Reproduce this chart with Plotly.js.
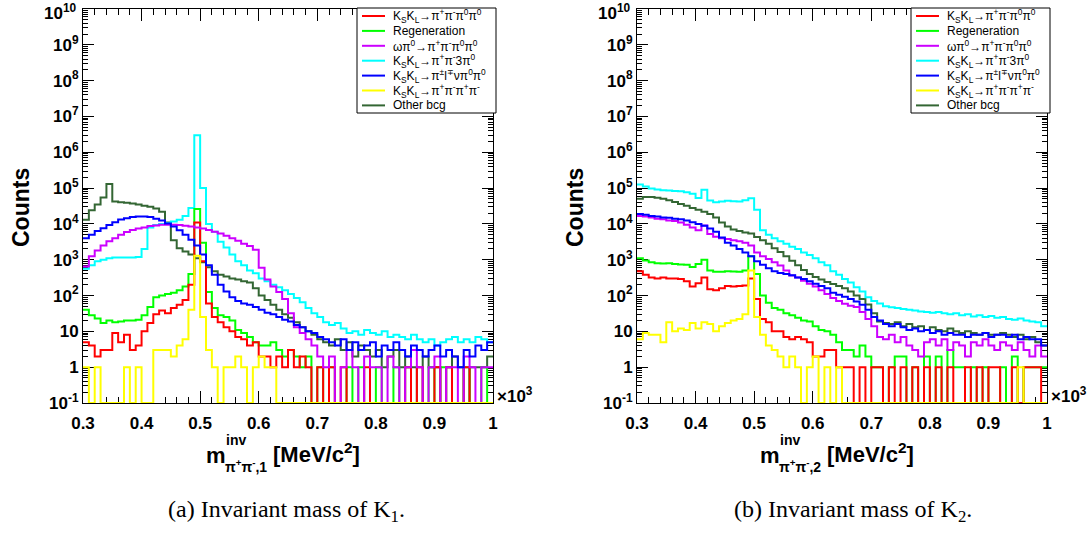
<!DOCTYPE html>
<html><head><meta charset="utf-8">
<script src="https://cdn.plot.ly/plotly-3.0.1.min.js"></script>
<style>html,body{margin:0;padding:0;background:#fff}#plot{width:1091px;height:537px}</style>
</head><body><div id="plot"></div>
<script>
// ---------------- data (counts per 10 MeV bin, 0.30 .. 1.00 x10^3 MeV/c^2) ----------------
const binLo = 0.3, binW = 0.01, nBins = 70;

const seriesLabels = [
  "K<sub>S</sub>K<sub>L</sub>→π<sup>+</sup>π<sup>-</sup>π<sup>0</sup>π<sup>0</sup>",
  "Regeneration",
  "ωπ<sup>0</sup>→π<sup>+</sup>π<sup>-</sup>π<sup>0</sup>π<sup>0</sup>",
  "K<sub>S</sub>K<sub>L</sub>→π<sup>+</sup>π<sup>-</sup>3π<sup>0</sup>",
  "K<sub>S</sub>K<sub>L</sub>→π<sup>±</sup>l<sup>∓</sup>νπ<sup>0</sup>π<sup>0</sup>",
  "K<sub>S</sub>K<sub>L</sub>→π<sup>+</sup>π<sup>-</sup>π<sup>+</sup>π<sup>-</sup>",
  "Other bcg"
];
const seriesColors = ["#ff0000","#00ff00","#cc00ff","#00ffff","#0000ff","#ffff00","#336633"];

const K1_signal = [
5,4,2,3,3,9,5,8,3,4,
10,17,30,38,32,45,55,75,200,11000,
900,60,25,18,13,10,7,6,4,5,
2,2,1,2,1,3,1,2,1,0,
1,0,1,0,1,0,0,0,1,0,
0,0,0,0,0,1,0,1,0,0,
1,0,1,0,0,1,0,0,0,0];
const K1_regen = [
40,28,23,17,20,18,19,20,20,21,
28,48,90,100,110,120,140,180,400,26000,
3000,125,45,28,25,20,11,9,7,5,
4,4,5,3,2,3,2,1,2,0,
1,0,1,0,0,1,0,1,0,0,
1,0,0,1,0,1,0,0,0,1,
0,1,0,0,0,1,0,0,1,0];
const K1_omega = [
650,1250,1800,2500,3300,4000,5000,5900,6800,7400,
8000,8700,9100,9500,9500,9500,9300,8900,8500,8000,
7400,6800,6000,5400,4700,4000,3400,2800,2400,1900,
600,280,180,125,80,32,13,9,6,4,
2,1,2,0,1,3,1,0,2,1,
1,0,2,1,0,1,3,1,0,1,
2,0,1,1,0,2,1,0,1,1];
const K1_3pi0 = [
560,700,900,1000,1100,1150,1150,1150,1150,1200,
2000,8000,9300,10000,10500,11700,13000,16500,28000,3000000,
100000,10000,6000,3200,2200,1400,900,700,500,420,
300,250,200,170,140,110,85,65,45,32,
25,18,15,17,12,9,10,8,11,9,
8,10,7,8,7,6,8,6,5,6,
4,5,6,7,5,6,5,7,6,5];
const K1_semilep = [
4000,5000,6300,7600,9300,11200,13200,14500,15500,16000,
16000,15500,14000,12500,10200,8500,6700,5000,3600,2500,
1400,700,380,200,130,90,70,60,55,48,
40,33,30,25,21,19,15,13,10,9,
7,6,5,4,6,3,5,3,4,5,
2,4,3,5,3,2,4,3,2,3,
4,2,3,2,1,3,2,4,3,5];
const K1_4pic = [
1,0,1,0,0,0,0,1,0,1,
0,0,3,3,3,2,4,6,40,1300,
25,3,1,0,1,1,2,1,0,1,
2,1,1,0,0,0,0,0,0,0,
0,0,0,0,0,0,0,0,0,0,
0,0,0,0,0,0,0,0,0,0,
0,0,0,0,0,0,0,0,0,0];
const K1_other = [
13000,24000,35000,55000,130000,42000,40000,39000,37000,35000,
32000,30000,27000,22000,11000,3500,2100,1700,1400,1100,
850,620,480,380,340,300,280,250,230,160,
100,75,55,40,30,24,18,13,10,8,
6,5,4,6,3,5,2,4,3,2,
3,1,2,3,1,2,1,0,2,1,
1,0,1,2,1,0,1,1,1,2];

const K2_signal = [
480,380,320,300,320,300,300,290,250,180,
220,320,150,140,160,185,180,185,190,300,
80,22,18,10,10,7,6,7,6,5,
2,2,3,3,1,1,1,0,1,0,
1,1,0,1,0,1,0,1,0,1,
0,1,0,1,0,0,1,0,1,0,
1,1,0,0,1,0,1,1,1,0];
const K2_regen = [
1100,950,850,800,780,800,760,740,720,630,
760,1000,500,460,460,480,470,460,500,1250,
400,100,63,45,40,32,28,24,20,19,
14,11,10,8,5,3,3,2,4,2,
1,1,0,1,2,2,0,1,0,2,
0,2,0,3,1,1,0,1,0,1,
0,0,1,0,2,0,1,1,1,1];
const K2_omega = [
16500,16000,15000,14000,13500,12500,12000,11000,9500,8000,
6600,9000,5200,4400,4000,3800,3500,3300,3000,2500,
1600,1250,1050,850,690,500,360,320,260,215,
180,140,110,85,70,59,52,48,35,22,
14,7,6,8,5,7,4,3,2,5,
6,4,6,3,5,4,2,5,4,6,
4,3,5,4,3,5,3,2,4,2];
const K2_3pi0 = [
125000,110000,98000,91000,87000,85000,83000,81000,77000,70000,
53000,90000,45000,40000,42000,44000,43000,42000,46000,52000,
25000,6600,5000,4000,3300,2800,2300,2000,1600,1350,
1100,850,700,480,380,290,230,170,130,90,
70,60,50,47,45,42,40,38,36,35,
33,35,32,30,32,28,30,26,28,25,
27,24,25,22,21,23,20,19,18,14];
const K2_semilep = [
19000,18000,16500,16000,15000,14800,14000,13500,12500,11200,
10000,8900,7400,6000,4200,3000,2500,2000,1600,1250,
900,720,575,480,425,400,370,320,290,250,
215,185,160,120,105,92,80,68,55,40,
25,20,16,14,16,13,11,12,10,11,
9,10,8,9,8,8,7,8,8,9,
7,8,8,7,8,6,7,6,6,4];
const K2_4pic = [
6,9,8,8,5,18,10,12,11,17,
12,18,16,10,14,17,20,22,30,500,
25,8,4,3,2,1,2,1,0,1,
2,0,1,0,1,0,0,0,0,0,
0,0,0,0,0,0,0,0,0,0,
0,0,0,0,0,0,0,0,0,0,
0,0,0,0,0,1,0,0,0,0];
const K2_other = [
50000,56000,56000,54000,50000,46000,41000,36000,32000,28000,
25000,22000,19000,15000,11000,8500,7000,6300,5800,5400,
4300,3500,2800,2100,1650,1250,930,700,520,400,
330,280,240,210,185,160,130,100,80,56,
32,19,17,16,18,14,16,13,14,11,
13,11,10,12,10,9,10,9,8,9,
8,8,9,8,7,8,6,7,5,4];

const xTickVals = [0.3,0.4,0.5,0.6,0.7,0.8,0.9,1.0];
const xTickText = ["0.3","0.4","0.5","0.6","0.7","0.8","0.9","1"];
const yTickVals = [0.1,1,10,1e2,1e3,1e4,1e5,1e6,1e7,1e8,1e9,1e10];
const yTickText = ["10<sup>-1</sup>","1","10","10<sup>2</sup>","10<sup>3</sup>","10<sup>4</sup>","10<sup>5</sup>","10<sup>6</sup>","10<sup>7</sup>","10<sup>8</sup>","10<sup>9</sup>","10<sup>10</sup>"];

// ---------------- build ----------------
const W = 1091, H = 537;
const SANS = "Liberation Sans, Arial, Helvetica, sans-serif";
const SERIF = "Liberation Serif, Times New Roman, serif";
const yFloor = 0.1;
const edges = Array.from({length: nBins + 1}, (_, i) => +(binLo + i * binW).toFixed(4));
function stepY(v) { const y = v.map(c => c > 0 ? c : yFloor); y.push(y[y.length - 1]); return y; }

const panels = [
  {xa: "x", ya: "y", data: [K1_signal, K1_regen, K1_omega, K1_3pi0, K1_semilep, K1_4pic, K1_other]},
  {xa: "x2", ya: "y2", data: [K2_signal, K2_regen, K2_omega, K2_3pi0, K2_semilep, K2_4pic, K2_other]}
];
const drawOrder = [6, 3, 1, 0, 2, 4, 5];
const traces = [];
panels.forEach(p => {
  drawOrder.forEach(k => {
    traces.push({
      type: "scatter", mode: "lines", x: edges, y: stepY(p.data[k]),
      xaxis: p.xa, yaxis: p.ya, name: seriesLabels[k], showlegend: false,
      line: {color: seriesColors[k], width: 2, shape: "hv"}, hoverinfo: "skip"
    });
  });
});

// the top label (10^10) sits at the very edge of the page; it is drawn as an annotation so it is not clipped
const yTickTextAxis = yTickText.map((t, i) => i === yTickText.length - 1 ? "" : t);

const frame = {L: 83, R: 493, T: 9, B: 403, dx: 554};
function xaxisDef(px0, px1, anchor) {
  return {
    domain: [px0 / W, px1 / W], range: [0.3, 1.0], anchor: anchor,
    tickvals: xTickVals, ticktext: xTickText, ticks: "inside", ticklen: 12, tickwidth: 1, tickcolor: "#000",
    minor: {ticks: "inside", ticklen: 6, tickcolor: "#000", dtick: 0.02, tick0: 0.3, showgrid: false},
    showline: true, linecolor: "#000", linewidth: 1, mirror: "allticks",
    showgrid: false, zeroline: false, layer: "below traces",
    ticklabelstandoff: 5, ticklabeloverflow: "allow",
    tickfont: {family: SANS, size: 17, color: "#000", weight: "bold"}
  };
}
function yaxisDef(anchor) {
  return {
    domain: [(H - frame.B) / H, (H - frame.T) / H], type: "log", range: [-1, 10], anchor: anchor,
    tickvals: yTickVals, ticktext: yTickTextAxis, ticks: "inside", ticklen: 11, tickwidth: 1, tickcolor: "#000",
    minor: {ticks: "inside", ticklen: 5, tickcolor: "#000", dtick: "D1", showgrid: false},
    showline: true, linecolor: "#000", linewidth: 1, mirror: "allticks",
    showgrid: false, zeroline: false, layer: "below traces",
    ticklabeloverflow: "allow",
    tickfont: {family: SANS, size: 17, color: "#000", weight: "bold"}
  };
}

function A(text, px, py, o) {
  return Object.assign({xref: "paper", yref: "paper", x: px / W, y: 1 - py / H, text: text, showarrow: false,
    xanchor: "left", yanchor: "middle", font: {family: SANS, size: 12, color: "#000"}}, o || {});
}
const annotations = [], shapes = [];
[0, 1].forEach(i => {
  const o = i * frame.dx;
  const idx = i + 1;
  // top y tick label
  annotations.push(A("<b>" + yTickText[yTickText.length - 1] + "</b>", 78 + o, 0.5,
    {xanchor: "right", yanchor: "top", borderpad: 0, font: {family: SANS, size: 17, color: "#000"}}));
  // y title
  annotations.push(A("<b>Counts</b>", 21 + o, 208, {xanchor: "center", textangle: -90, font: {family: SANS, size: 23, color: "#000"}}));
  // x title pieces
  annotations.push(A("<b>m</b>", 204 + o, 455, {font: {family: SANS, size: 22, color: "#000"}}));
  annotations.push(A("<b>inv</b>", 224 + o, 440, {font: {family: SANS, size: 14, color: "#000"}}));
  annotations.push(A("<b>π<sup>+</sup>π<sup>-</sup>,"+idx+"</b>", 223 + o, 466, {font: {family: SANS, size: 14, color: "#000"}}));
  annotations.push(A("<b>[MeV/c<sup>2</sup>]</b>", 271 + o, 453, {font: {family: SANS, size: 22, color: "#000"}}));
  // x10^3
  annotations.push(A("<b>×10<sup>3</sup></b>", 495 + o, 395, {font: {family: SANS, size: 17, color: "#000"}}));
  // legend
  const lx0 = 357 + o, lx1 = 496 + o, ly0 = 8, ly1 = 113;
  shapes.push({type: "rect", xref: "paper", yref: "paper", x0: lx0 / W, x1: lx1 / W, y0: 1 - ly1 / H, y1: 1 - ly0 / H,
    line: {color: "#000", width: 1}, fillcolor: "#fff", layer: "above"});
  seriesLabels.forEach((lab, k) => {
    const py = 16 + k * 14.9;
    shapes.push({type: "line", xref: "paper", yref: "paper", x0: (362 + o) / W, x1: (385 + o) / W, y0: 1 - py / H, y1: 1 - py / H,
      line: {color: seriesColors[k], width: 2}, layer: "above"});
    annotations.push(A(lab, 391 + o, py, {font: {family: SANS, size: 12, color: "#000"}}));
  });
});
annotations.push(A("(a) Invariant mass of K<sub>1</sub>.", 286, 511, {xanchor: "center", font: {family: SERIF, size: 24, color: "#000"}}));
annotations.push(A("(b) Invariant mass of K<sub>2</sub>.", 853, 511, {xanchor: "center", font: {family: SERIF, size: 24, color: "#000"}}));

const layout = {
  width: W, height: H, autosize: false,
  margin: {l: 0, r: 0, t: 0, b: 0},
  paper_bgcolor: "#fff", plot_bgcolor: "#fff", showlegend: false,
  xaxis: xaxisDef(frame.L, frame.R, "y"),
  yaxis: yaxisDef("x"),
  xaxis2: xaxisDef(frame.L + frame.dx, frame.R + frame.dx, "y2"),
  yaxis2: yaxisDef("x2"),
  annotations: annotations, shapes: shapes
};
Plotly.newPlot("plot", traces, layout, {displayModeBar: false, staticPlot: true});
</script></body></html>
